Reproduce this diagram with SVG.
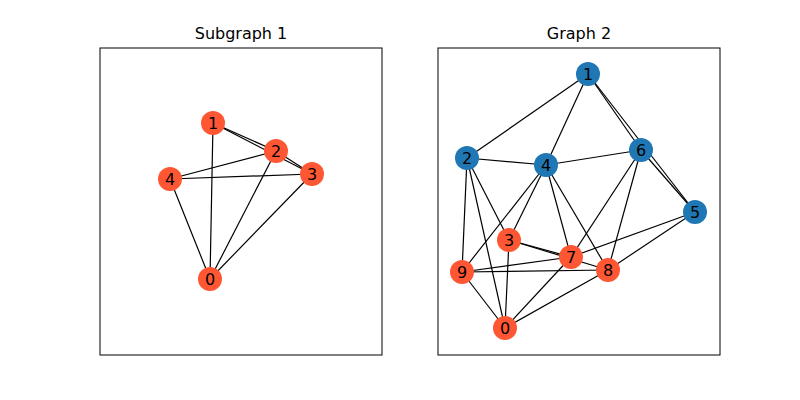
<svg xmlns="http://www.w3.org/2000/svg" width="800" height="400" viewBox="0 0 800 400">
<style>
text{font-family:"DejaVu Sans",sans-serif;fill:#000}
.t{font-size:16px;text-anchor:middle}
.n text{font-size:16px;text-anchor:middle;dominant-baseline:central}
.o circle{fill:#ff5733}
.b circle{fill:#1f77b4}
#edges line{stroke:#000;stroke-width:1.2}
</style>
<rect width="800" height="400" fill="#fff"/>
<rect x="100" y="48" width="282" height="307" fill="none" stroke="#000" stroke-width="1"/>
<rect x="438" y="48" width="282" height="307" fill="none" stroke="#000" stroke-width="1"/>
<text class="t" x="241" y="39">Subgraph 1</text>
<text class="t" x="579" y="39">Graph 2</text>
<g id="edges">
<line x1="213" y1="123" x2="276" y2="151"/><line x1="213" y1="123" x2="312" y2="174"/><line x1="276" y1="151" x2="312" y2="174"/>
<line x1="276" y1="151" x2="170" y2="179"/><line x1="170" y1="179" x2="312" y2="174"/><line x1="170" y1="179" x2="210" y2="279"/>
<line x1="213" y1="123" x2="210" y2="279"/><line x1="276" y1="151" x2="210" y2="279"/><line x1="312" y1="174" x2="210" y2="279"/>
<line x1="588" y1="74" x2="467" y2="158"/><line x1="588" y1="74" x2="546" y2="165"/><line x1="588" y1="74" x2="641" y2="150"/><line x1="588" y1="74" x2="695" y2="212"/>
<line x1="467" y1="158" x2="546" y2="165"/><line x1="546" y1="165" x2="641" y2="150"/><line x1="641" y1="150" x2="695" y2="212"/>
<line x1="467" y1="158" x2="462" y2="272"/><line x1="467" y1="158" x2="505" y2="328"/><line x1="467" y1="158" x2="509" y2="240"/>
<line x1="546" y1="165" x2="462" y2="272"/><line x1="546" y1="165" x2="509" y2="240"/><line x1="546" y1="165" x2="571" y2="257"/><line x1="546" y1="165" x2="608" y2="270"/>
<line x1="641" y1="150" x2="571" y2="257"/><line x1="641" y1="150" x2="608" y2="270"/>
<line x1="695" y1="212" x2="571" y2="257"/><line x1="695" y1="212" x2="608" y2="270"/>
<line x1="509" y1="240" x2="571" y2="257"/><line x1="509" y1="240" x2="608" y2="270"/><line x1="509" y1="240" x2="505" y2="328"/>
<line x1="462" y1="272" x2="571" y2="257"/><line x1="462" y1="272" x2="608" y2="270"/><line x1="462" y1="272" x2="505" y2="328"/>
<line x1="571" y1="257" x2="505" y2="328"/><line x1="608" y1="270" x2="505" y2="328"/>
</g>
<g id="L1" class="n o"><circle cx="213" cy="123" r="12"/><text x="213" y="123">1</text></g>
<g id="L2" class="n o"><circle cx="276" cy="151" r="12"/><text x="276" y="151">2</text></g>
<g id="L3" class="n o"><circle cx="312" cy="174" r="12"/><text x="312" y="174">3</text></g>
<g id="L4" class="n o"><circle cx="170" cy="179" r="12"/><text x="170" y="179">4</text></g>
<g id="L0" class="n o"><circle cx="210" cy="279" r="12"/><text x="210" y="279">0</text></g>
<g id="R1" class="n b"><circle cx="588" cy="74" r="12"/><text x="588" y="74">1</text></g>
<g id="R2" class="n b"><circle cx="467" cy="158" r="12"/><text x="467" y="158">2</text></g>
<g id="R4" class="n b"><circle cx="546" cy="165" r="12"/><text x="546" y="165">4</text></g>
<g id="R6" class="n b"><circle cx="641" cy="150" r="12"/><text x="641" y="150">6</text></g>
<g id="R5" class="n b"><circle cx="695" cy="212" r="12"/><text x="695" y="212">5</text></g>
<g id="R3" class="n o"><circle cx="509" cy="240" r="12"/><text x="509" y="240">3</text></g>
<g id="R7" class="n o"><circle cx="571" cy="257" r="12"/><text x="571" y="257">7</text></g>
<g id="R8" class="n o"><circle cx="608" cy="270" r="12"/><text x="608" y="270">8</text></g>
<g id="R9" class="n o"><circle cx="462" cy="272" r="12"/><text x="462" y="272">9</text></g>
<g id="R0" class="n o"><circle cx="505" cy="328" r="12"/><text x="505" y="328">0</text></g>
</svg>
